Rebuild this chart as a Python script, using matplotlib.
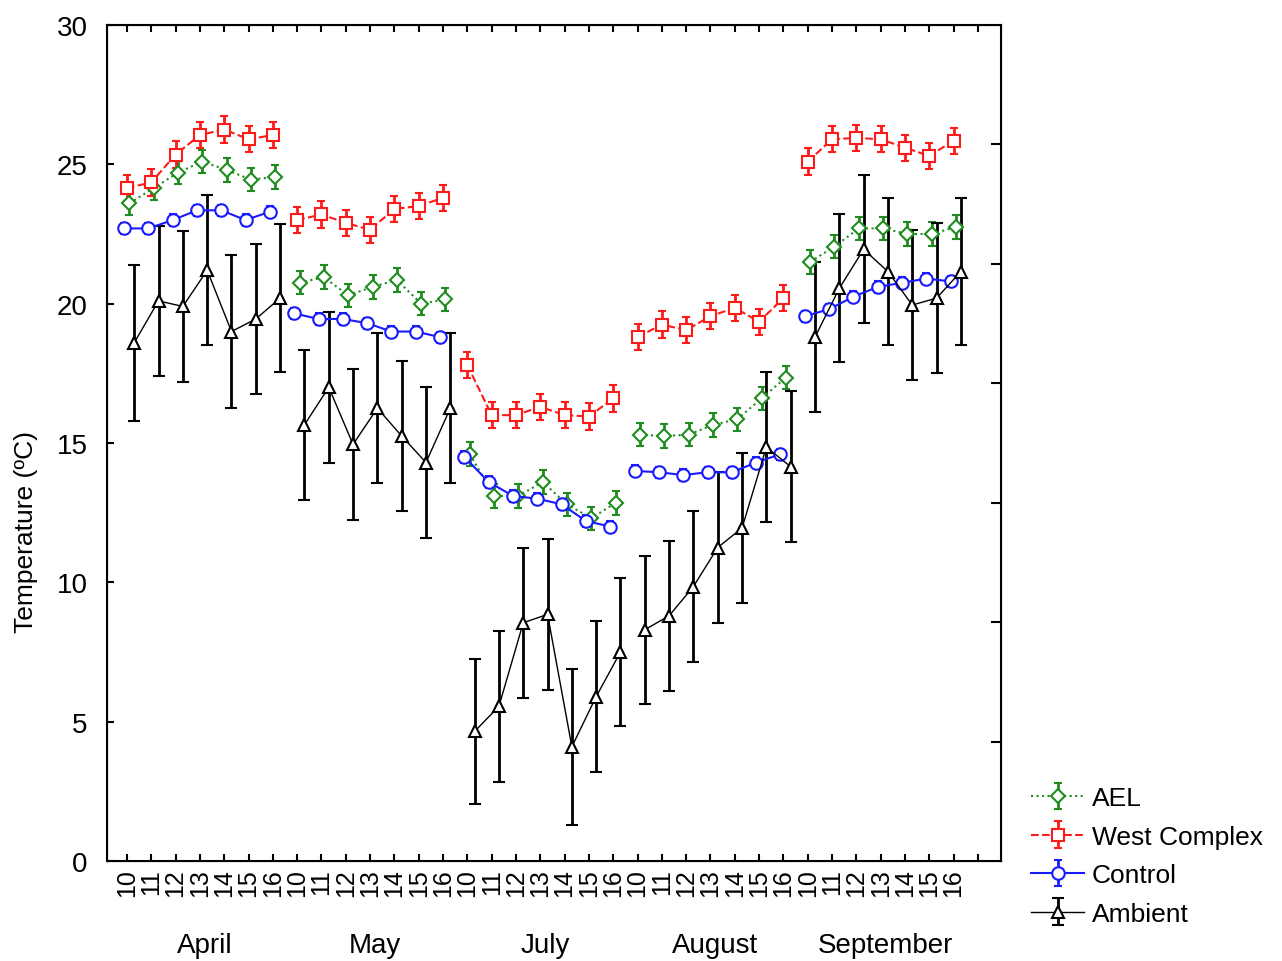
import numpy as np
import matplotlib
matplotlib.use("Agg")
import matplotlib.pyplot as plt

plt.rcParams['font.family'] = ['Liberation Sans', 'DejaVu Sans']

months = ["April", "May", "July", "August", "September"]
days = ["10", "11", "12", "13", "14", "15", "16"]

# mean temperature per sampling day, one list of 7 per month
ael = [[23.6, 24.15, 24.7, 25.1, 24.8, 24.45, 24.55],
       [20.75, 20.95, 20.3, 20.6, 20.85, 20.0, 20.15],
       [14.6, 13.1, 13.1, 13.6, 12.8, 12.3, 12.85],
       [15.3, 15.25, 15.3, 15.65, 15.85, 16.6, 17.35],
       [21.5, 22.05, 22.7, 22.7, 22.5, 22.5, 22.75]]
west = [[24.15, 24.35, 25.35, 26.05, 26.25, 25.9, 26.05],
        [23.0, 23.2, 22.9, 22.65, 23.4, 23.5, 23.8],
        [17.8, 16.0, 16.0, 16.3, 16.0, 15.95, 16.6],
        [18.8, 19.25, 19.05, 19.55, 19.85, 19.35, 20.2],
        [25.1, 25.9, 25.95, 25.9, 25.6, 25.3, 25.85]]
control = [[22.7, 22.7, 23.0, 23.35, 23.35, 23.0, 23.3],
           [19.65, 19.45, 19.45, 19.3, 19.0, 19.0, 18.8],
           [14.5, 13.6, 13.1, 13.0, 12.8, 12.2, 12.0],
           [14.0, 13.95, 13.85, 13.95, 13.95, 14.3, 14.6],
           [19.55, 19.8, 20.25, 20.6, 20.75, 20.9, 20.8]]
ambient = [[18.6, 20.1, 19.9, 21.2, 19.0, 19.45, 20.2],
           [15.65, 17.0, 14.95, 16.25, 15.25, 14.3, 16.25],
           [4.65, 5.55, 8.55, 8.85, 4.1, 5.9, 7.5],
           [8.3, 8.8, 9.85, 11.25, 11.95, 14.85, 14.15],
           [18.8, 20.55, 21.95, 21.15, 19.95, 20.2, 21.15]]
ambient_err = [[2.8, 2.7, 2.7, 2.7, 2.75, 2.7, 2.65],
               [2.7, 2.7, 2.7, 2.7, 2.7, 2.7, 2.7],
               [2.6, 2.7, 2.7, 2.7, 2.8, 2.7, 2.65],
               [2.65, 2.7, 2.7, 2.7, 2.7, 2.7, 2.7],
               [2.7, 2.65, 2.65, 2.65, 2.7, 2.7, 2.65]]
ael_err = 0.42
west_err = 0.47
control_err = 0.2

fig = plt.figure(figsize=(12.82, 9.62), dpi=100)
ax = fig.add_axes([107/1282, 100/962, 894/1282, 836/962])

series = [
    ("AEL", ael, ael_err, "#1e8c1e", "D", ":", 0.1, 7.5, 1.5),
    ("West Complex", west, west_err, "#ff1a1a", "s", "--", 0.0, 9, 1.5),
    ("Control", control, control_err, "#1a1aff", "o", "-", -0.12, 9, 1.5),
    ("Ambient", ambient, ambient_err, "black", "^", "-", 0.3, 9, 1.0),
]

for name, vals, err, col, mk, ls, shift, ms, lw in series:
    for m in range(len(months)):
        x = np.arange(len(days)) + m * len(days) + shift
        e = err[m] if isinstance(err, list) else err
        ax.errorbar(x, vals[m], yerr=e, color=col, marker=mk, ls=ls, lw=lw,
                    ms=ms, mfc="white", mec=col, mew=1.5, elinewidth=2,
                    capsize=4 if name == "Ambient" else 3, capthick=2,
                    label=name if m == 0 else None, zorder=3)

n = len(months) * len(days)
ax.set_xlim(-0.82, 35.95)
ax.set_ylim(0, 30)
ax.set_xticks(np.arange(n + 1))
ax.set_xticklabels(days * len(months) + [""], rotation=90, fontsize=18)
ax.set_yticks(np.arange(0, 31, 5))
ax.tick_params(axis="y", labelsize=20, direction="in", length=5, width=1.5, pad=14)
ax.tick_params(axis="x", direction="in", length=5, width=1.5, top=True, pad=5)
for s in ax.spines.values():
    s.set_linewidth(1.5)

# right-hand tick marks (no labels)
ax2 = ax.twinx()
ax2.set_ylim(0, 30)
ax2.set_yticks(np.arange(1, 7) * 30 / 7)
ax2.set_yticklabels([])
ax2.tick_params(direction="in", length=7, width=1.5)

for m, name in enumerate(months):
    ax.text(m * len(days) + 3.2, -0.1, name, transform=ax.get_xaxis_transform(),
            ha="center", va="center", fontsize=20)

ax.set_ylabel("Temperature (ºC)", fontsize=19)
ax.yaxis.set_label_coords(-0.077, 0.395)

fig.legend(loc="lower left", bbox_to_anchor=(1018/1282, 22/962), frameon=False,
           fontsize=19, handlelength=2.0, labelspacing=0.55, borderpad=0, handletextpad=0.3)

fig.savefig("out.png", dpi=100)
